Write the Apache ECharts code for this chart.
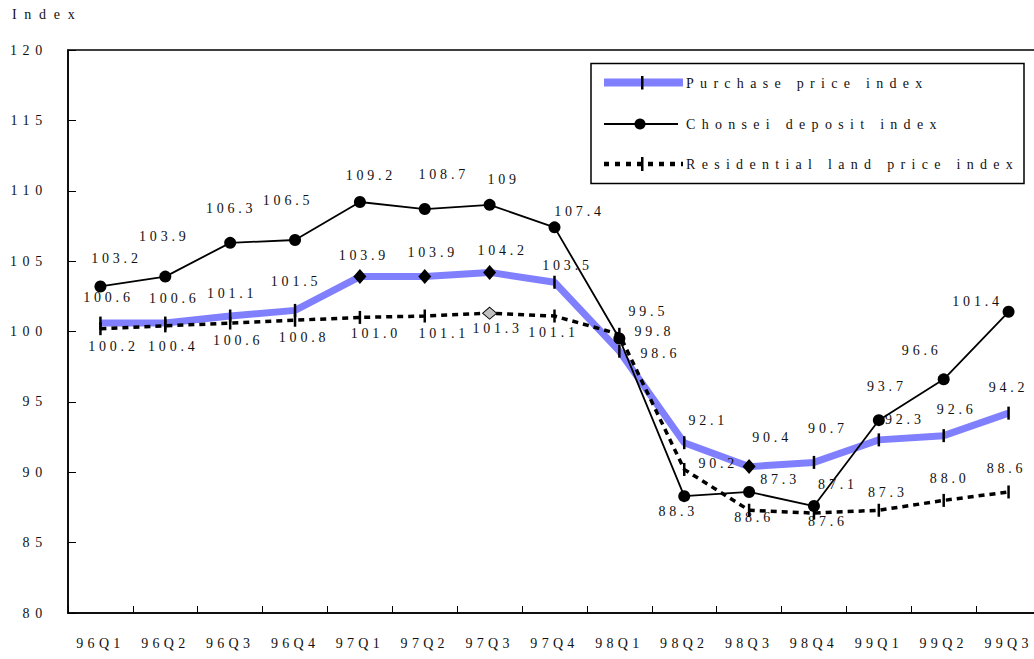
<!DOCTYPE html>
<html>
<head>
<meta charset="utf-8">
<script src="https://cdn.jsdelivr.net/npm/echarts@6/dist/echarts.min.js"></script>
<style>
html,body{margin:0;padding:0;background:#fff;}
#chart{width:1034px;height:659px;}
#chart text[style*="lsY"]{letter-spacing:5.7px;}
#chart text[style*="lsX"]{letter-spacing:4.3px;}
#chart text[style*="lsD"]{letter-spacing:3.8px;}
#chart text[style*="lsN"]{letter-spacing:7.7px;}
#chart text[style*="lsL"]{letter-spacing:6.3px;}
</style>
</head>
<body>
<div id="chart"></div>
<script>
// ---- data ----
const categories = ['96Q1','96Q2','96Q3','96Q4','97Q1','97Q2','97Q3','97Q4','98Q1','98Q2','98Q3','98Q4','99Q1','99Q2','99Q3'];
const purchaseIndex = [100.6,100.6,101.1,101.5,103.9,103.9,104.2,103.5,98.6,92.1,90.4,90.7,92.3,92.6,94.2];
const chonseiIndex  = [103.2,103.9,106.3,106.5,109.2,108.7,109,107.4,99.5,88.3,88.6,87.6,93.7,96.6,101.4];
const landIndex     = [100.2,100.4,100.6,100.8,101.0,101.1,101.3,101.1,99.8,90.2,87.3,87.1,87.3,88.0,88.6];
const seriesNames = ['Purchase price index','Chonsei deposit index','Residential land price index'];
const yMin = 80, yMax = 120, yStep = 5;

// ---- marker kinds (styling, not data) ----
const purchaseDiamondAt = [4,5,6,10];
const landDiamondAt = [6];

// ---- label placement offsets (label centre relative to point, px) ----
const purchaseLabelOffsets = [[6,-26],[7,-25],[0,-23],[-1,-29],[2,-21],[6,-24],[11,-22],[11,-17],[39,2],[22,-22],[21,-29],[12,-34],[24,-20],[11,-26],[-2,-26]];
const chonseiLabelOffsets  = [[14,-28],[-3,-40],[-1,-34],[-9,-40],[9,-27],[17,-35],[12,-25],[23,-16],[27,-27],[-8,15],[3,26],[12,15],[6,-34],[-24,-29],[-33,-10]];
const landLabelOffsets     = [[11,18],[6,21],[6,17],[7,17],[14,16],[17,17],[6,15],[-3,16],[33,-3],[32,-6],[29,-31],[22,-29],[7,-18],[4,-22],[-4,-23]];

const LS_SHIFT = 2; // compensate centred letter-spaced text
const dataFont = 'lsD, Liberation Serif, serif';
const TXT = '#111';
const FS = 14;

function labelCfg(off, fmt) {
  return {
    show: true, position: 'inside', offset: [off[0] + LS_SHIFT, off[1]],
    formatter: fmt, fontSize: FS, fontFamily: dataFont, color: TXT
  };
}

const purchaseData = purchaseIndex.map((v, i) => {
  const isD = purchaseDiamondAt.includes(i);
  return {
    value: v,
    symbol: isD ? 'diamond' : 'rect',
    symbolSize: isD ? [13, 15] : [2.5, 13],
    itemStyle: {color: '#000', borderWidth: 0},
    label: labelCfg(purchaseLabelOffsets[i], p => p.value.toFixed(1))
  };
});
const chonseiData = chonseiIndex.map((v, i) => ({
  value: v,
  label: labelCfg(chonseiLabelOffsets[i], p => String(p.value))
}));
const landData = landIndex.map((v, i) => {
  const isD = landDiamondAt.includes(i);
  return {
    value: v,
    symbol: isD ? 'diamond' : 'rect',
    symbolSize: isD ? [14, 12] : [2.5, 13],
    itemStyle: isD ? {color: '#c0c0c0', borderColor: '#000', borderWidth: 1} : {color: '#000', borderWidth: 0},
    label: labelCfg(landLabelOffsets[i], p => p.value.toFixed(1))
  };
});

const chart = echarts.init(document.getElementById('chart'), null, {renderer: 'svg'});
const legendFont = 'lsL, Liberation Serif, serif';

chart.setOption({
  animation: false,
  backgroundColor: '#fff',
  grid: {left: 68, right: -7, top: 50, bottom: 46, show: true, borderColor: '#000', borderWidth: 1.5, backgroundColor: 'transparent', containLabel: false, outerBoundsMode: 'none'},
  xAxis: {
    type: 'category', data: categories, boundaryGap: true,
    axisLine: {show: true, lineStyle: {color: '#000', width: 1.5}},
    axisTick: {show: true, inside: true, length: 7, lineStyle: {color: '#000', width: 1}},
    axisLabel: {show: true, margin: 23, fontSize: FS, fontFamily: 'lsX, Liberation Serif, serif', color: TXT, interval: 0},
    splitLine: {show: false}
  },
  yAxis: {
    type: 'value', min: yMin, max: yMax, interval: yStep,
    axisLine: {show: true, lineStyle: {color: '#000', width: 1.5}},
    axisTick: {show: true, inside: true, length: 8, lineStyle: {color: '#000', width: 1}},
    axisLabel: {show: true, margin: 20, fontSize: FS, fontFamily: 'lsY, Liberation Serif, serif', color: TXT},
    splitLine: {show: false}
  },
  series: [
    {
      name: seriesNames[0], type: 'line', data: purchaseData, z: 2,
      lineStyle: {color: '#8080ff', width: 7}, showAllSymbol: true,
      emphasis: {disabled: true}
    },
    {
      name: seriesNames[1], type: 'line', data: chonseiData, z: 3,
      symbol: 'circle', symbolSize: 12,
      itemStyle: {color: '#000'}, lineStyle: {color: '#000', width: 1.8},
      emphasis: {disabled: true}
    },
    {
      name: seriesNames[2], type: 'line', data: landData, z: 4,
      lineStyle: {color: '#000', width: 3.5, type: [6, 5]},
      emphasis: {disabled: true}
    }
  ],
  graphic: [
    {type: 'text', left: 12, top: 7, style: {text: 'Index', fontSize: FS, fontFamily: 'lsN, Liberation Serif, serif', fill: TXT}},
    {type: 'rect', shape: {x: 591, y: 63.5, width: 433, height: 120}, style: {fill: '#fff', stroke: '#000', lineWidth: 1.5}, z: 10},
    {type: 'line', shape: {x1: 604, y1: 82.5, x2: 683, y2: 82.5}, style: {stroke: '#8080ff', lineWidth: 8}, z: 11},
    {type: 'rect', shape: {x: 641, y: 76, width: 2.5, height: 13.5}, style: {fill: '#000'}, z: 12},
    {type: 'text', x: 686, y: 83, style: {text: seriesNames[0], fontSize: FS, fontFamily: legendFont, fill: TXT, verticalAlign: 'middle', align: 'left'}, z: 12},
    {type: 'line', shape: {x1: 604, y1: 124, x2: 678, y2: 124}, style: {stroke: '#000', lineWidth: 1.8}, z: 11},
    {type: 'circle', shape: {cx: 640, cy: 124, r: 5.5}, style: {fill: '#000'}, z: 12},
    {type: 'text', x: 686, y: 124, style: {text: seriesNames[1], fontSize: FS, fontFamily: legendFont, fill: TXT, verticalAlign: 'middle', align: 'left'}, z: 12},
    {type: 'line', shape: {x1: 604, y1: 164, x2: 683, y2: 164}, style: {stroke: '#000', lineWidth: 4.5, lineDash: [5, 6]}, z: 11},
    {type: 'rect', shape: {x: 641, y: 157, width: 2.5, height: 14}, style: {fill: '#000'}, z: 12},
    {type: 'text', x: 686, y: 164, style: {text: seriesNames[2], fontSize: FS, fontFamily: legendFont, fill: TXT, verticalAlign: 'middle', align: 'left'}, z: 12}
  ]
});
</script>
</body>
</html>
